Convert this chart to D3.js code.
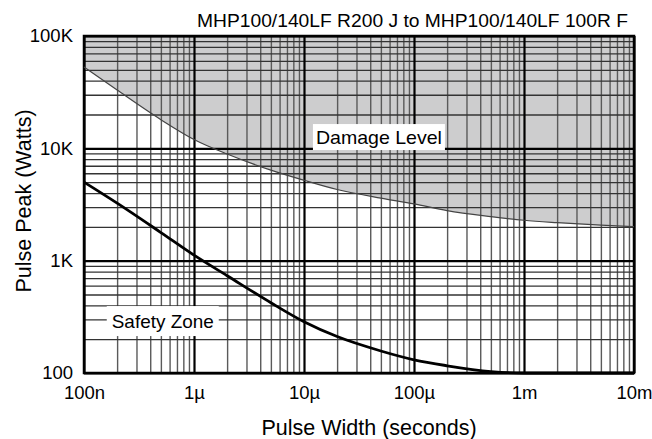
<!DOCTYPE html>
<html lang="en">
<head>
<meta charset="UTF-8">
<title>Pulse Peak vs Pulse Width</title>
<script src="https://cdn.jsdelivr.net/npm/d3@7/dist/d3.min.js"></script>
<style>
  body { margin: 0; background: #fff; }
  svg text { font-family: "Liberation Sans", Arial, Helvetica, sans-serif; fill: #000; }
</style>
</head>
<body>
<svg id="chart" width="652" height="439"></svg>
<script>
// tick positions and labels
const xTicks = [1e-7, 1e-6, 1e-5, 1e-4, 1e-3, 1e-2];
const xTickLabels = ["100n", "1\u00b5", "10\u00b5", "100\u00b5", "1m", "10m"];
const yTicks = [100, 1000, 10000, 100000];
const yTickLabels = ["100", "1K", "10K", "100K"];

// damage level curve (seconds, watts)
const damageX = [1e-7, 2e-7, 5e-7, 1e-6, 2e-6, 5e-6, 1e-5, 2e-5, 5e-5, 1e-4, 2e-4, 5e-4, 1e-3, 2e-3, 5e-3, 1e-2];
const damageY = [53000, 33000, 18000, 12000, 8900, 6400, 5200, 4300, 3600, 3200, 2790, 2470, 2290, 2180, 2070, 2010];

// safety zone curve
const safetyX = [1e-7, 2e-7, 5e-7, 1e-6, 2e-6, 5e-6, 1e-5, 2e-5, 5e-5, 1e-4, 2e-4, 5e-4, 1e-3, 1e-2];
const safetyY = [5000, 3250, 1780, 1120, 735, 422, 286, 211, 157, 131, 116, 103, 100, 100];

const margin = { top: 36, right: 18, bottom: 66, left: 84 };
const width = 652, height = 439;
const svg = d3.select("#chart");

const x = d3.scaleLog().domain([1e-7, 1e-2]).range([margin.left, width - margin.right]);
const y = d3.scaleLog().domain([100, 1e5]).range([height - margin.bottom, margin.top]);

const x0 = x.range()[0], x1 = x.range()[1];
const y0 = y.range()[0], y1 = y.range()[1];

// shaded damage area
const damage = damageX.map((d, i) => [d, damageY[i]]);
const area = d3.area()
    .x(d => x(d[0]))
    .y0(y1)
    .y1(d => y(d[1]))
    .curve(d3.curveMonotoneX);
svg.append("path")
    .datum(damage)
    .attr("d", area)
    .attr("fill", "#cdcdce");

// minor grid
const xMinor = [], yMinor = [];
for (let e = -7; e < -2; e++) for (let k = 2; k <= 9; k++) xMinor.push(k * Math.pow(10, e));
for (let e = 2; e < 5; e++) for (let k = 2; k <= 9; k++) yMinor.push(k * Math.pow(10, e));

svg.append("g")
    .attr("transform", `translate(0,${y0})`)
    .call(d3.axisBottom(x).tickValues(xMinor).tickSize(-(y0 - y1)).tickFormat(""))
    .call(g => g.select(".domain").remove())
    .call(g => g.selectAll("line").attr("stroke", "#5a5a5a").attr("stroke-width", 1.4));

svg.append("g")
    .attr("transform", `translate(${x0},0)`)
    .call(d3.axisLeft(y).tickValues(yMinor).tickSize(-(x1 - x0)).tickFormat(""))
    .call(g => g.select(".domain").remove())
    .call(g => g.selectAll("line").attr("stroke", "#333").attr("stroke-width", 1.3));

// major grid
svg.append("g")
    .attr("transform", `translate(0,${y0})`)
    .call(d3.axisBottom(x).tickValues(xTicks).tickSize(-(y0 - y1)).tickFormat(""))
    .call(g => g.select(".domain").remove())
    .call(g => g.selectAll("line").attr("stroke", "#000").attr("stroke-width", 2.2));

svg.append("g")
    .attr("transform", `translate(${x0},0)`)
    .call(d3.axisLeft(y).tickValues(yTicks).tickSize(-(x1 - x0)).tickFormat(""))
    .call(g => g.select(".domain").remove())
    .call(g => g.selectAll("line").attr("stroke", "#000").attr("stroke-width", 2.2));

// frame
svg.append("rect")
    .attr("x", x0).attr("y", y1)
    .attr("width", x1 - x0).attr("height", y0 - y1)
    .attr("fill", "none").attr("stroke", "#000").attr("stroke-width", 2.5);

// curves
const line = d3.line()
    .x(d => x(d[0]))
    .y(d => y(d[1]))
    .curve(d3.curveMonotoneX);

svg.append("path")
    .datum(damage)
    .attr("d", line)
    .attr("fill", "none")
    .attr("stroke", "#444")
    .attr("stroke-width", 1.2);

svg.append("path")
    .datum(safetyX.map((d, i) => [d, safetyY[i]]))
    .attr("d", line)
    .attr("fill", "none")
    .attr("stroke", "#000")
    .attr("stroke-width", 2.8);

// region labels with white boxes
function boxLabel(text, cx, cy, len, padX, boxH) {
    const g = svg.append("g");
    const t = g.append("text")
        .attr("x", cx).attr("y", cy)
        .attr("text-anchor", "middle")
        .attr("dominant-baseline", "central")
        .attr("textLength", len)
        .attr("lengthAdjust", "spacingAndGlyphs")
        .style("font-size", "18.5px")
        .text(text);
    g.insert("rect", "text")
        .attr("x", cx - len / 2 - padX).attr("y", cy - boxH / 2)
        .attr("width", len + 2 * padX).attr("height", boxH)
        .attr("fill", "#fff");
}
boxLabel("Damage Level", x(4.8e-5), y(12600), 126, 3, 26);
boxLabel("Safety Zone", x(5.2e-7), y(290), 102, 5, 30);

// tick labels
svg.append("g")
    .attr("transform", `translate(0,${y0})`)
    .call(d3.axisBottom(x).tickValues(xTicks).tickSize(0).tickPadding(13)
        .tickFormat((d, i) => xTickLabels[i]))
    .call(g => g.select(".domain").remove())
    .call(g => g.selectAll("text").style("font-size", "18.5px"));

svg.append("g")
    .attr("transform", `translate(${x0},0)`)
    .call(d3.axisLeft(y).tickValues(yTicks).tickSize(0).tickPadding(11)
        .tickFormat((d, i) => yTickLabels[i]))
    .call(g => g.select(".domain").remove())
    .call(g => g.selectAll("text").style("font-size", "18.5px"));

// titles
svg.append("text")
    .attr("x", 628).attr("y", 27)
    .attr("text-anchor", "end")
    .attr("textLength", 431)
    .attr("lengthAdjust", "spacingAndGlyphs")
    .style("font-size", "17.5px")
    .text("MHP100/140LF R200 J to MHP100/140LF 100R F");

svg.append("text")
    .attr("x", 369).attr("y", 435)
    .attr("text-anchor", "middle")
    .style("font-size", "21.5px")
    .text("Pulse Width (seconds)");

svg.append("text")
    .attr("transform", `translate(31,201) rotate(-90)`)
    .attr("text-anchor", "middle")
    .style("font-size", "21.5px")
    .text("Pulse Peak (Watts)");
</script>
</body>
</html>
